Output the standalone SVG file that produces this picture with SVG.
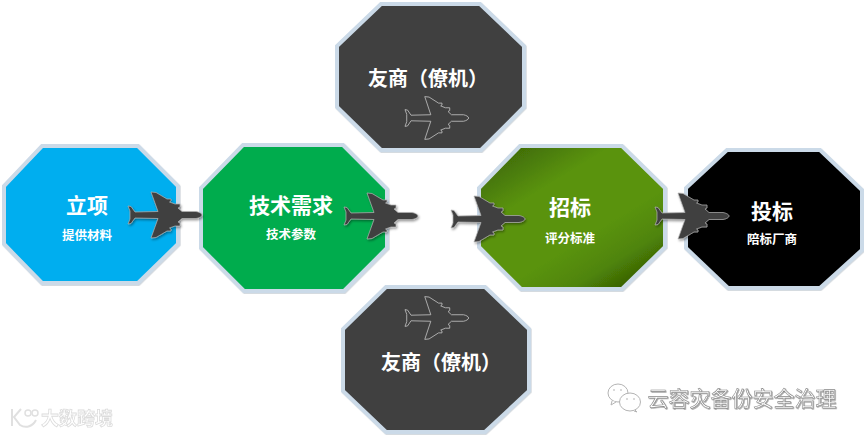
<svg xmlns="http://www.w3.org/2000/svg" width="864" height="435" viewBox="0 0 864 435">
<style>
.oct{stroke:#cbdae8;stroke-width:4;stroke-linejoin:miter;filter:url(#sh)}
text{font-family:"Noto Sans CJK SC","Liberation Sans",sans-serif;text-anchor:middle;dominant-baseline:central}
.t{fill:#fff;font-weight:700;font-size:21px}
.s{fill:#fff;font-weight:700;font-size:12.500px}
.pl{fill:#404040;stroke:#b5b5b5;stroke-width:.7;filter:url(#ps)}
.po{fill:none;stroke:#c4c4c4;stroke-width:.9}
.wm{fill:#fff;stroke:#8a8a8a;stroke-width:.6;font-size:21px;filter:url(#ws)}
.wb{fill:#fff;stroke:#dcdcdc;stroke-width:.8;font-size:18px;font-weight:700}
.ic{fill:#fff;stroke:#b4b4b4;stroke-width:1}
.lg{fill:none;stroke:#e0e0e0;stroke-width:2}
</style>
<defs>
<filter id="sh" x="-5%" y="-5%" width="110%" height="110%"><feDropShadow dx="0.6" dy="0.8" stdDeviation="0.6" flood-color="#8b99a8" flood-opacity=".45"/></filter>
<filter id="ps" x="-10%" y="-10%" width="125%" height="125%"><feDropShadow dx="1" dy="1.500" stdDeviation="0.8" flood-color="#000" flood-opacity=".4"/></filter>
<filter id="ws" x="-5%" y="-10%" width="110%" height="125%"><feDropShadow dx="0.8" dy="0.8" stdDeviation="0.4" flood-color="#777" flood-opacity=".7"/></filter>
<filter id="bl" x="-5%" y="-10%" width="110%" height="120%"><feGaussianBlur stdDeviation=".5"/></filter>
<linearGradient id="g" x1="0.1" y1="0" x2="0.9" y2="1">
<stop offset="0" stop-color="#3a6405"/><stop offset=".3" stop-color="#5a930a"/><stop offset=".62" stop-color="#5a930a"/><stop offset=".8" stop-color="#4f8408"/><stop offset="1" stop-color="#2c4f02"/>
</linearGradient>
<path id="plane" d="M0-9 3-8.500 7-3 30-3.500 23-23 28-22.500 39-16 43-16 43-14 41.500-13 47-11 52-11 52-8 50-7 54-3.500 68-3.500C71-3 74-1.500 74 0C74 1.500 71 3 68 3.500L54 3.500 50 7 52 8 52 11 47 11 41.500 13 43 14 43 16 39 16 28 22.500 23 23 30 3.500 7 3 3 8.500 0 9 2 4 2-4Z"/>
</defs>
<rect width="864" height="435" fill="#fff"/>
<g id="node-lixiang">
<polygon class="oct" fill="#00aeef" points="42,146 138,146 178,186 178,244 138,283 42,283 4,244 4,186"/>
<text class="t" x="87" y="204">立项</text><text class="s" x="87" y="234">提供材料</text>
</g>
<g id="node-jishu">
<polygon class="oct" fill="#00ac4e" points="243,145 343,145 387,189 387,248 344,291 244,291 201,248 201,188"/>
<text class="t" x="291" y="204">技术需求</text><text class="s" x="291" y="233">技术参数</text>
</g>
<g id="node-zhaobiao">
<polygon class="oct" fill="url(#g)" points="520,146 622,146 665,188 665,247 622,289 521,289 479,247 479,188"/>
<text class="t" x="570" y="206">招标</text><text class="s" x="570" y="237">评分标准</text>
</g>
<g id="node-toubiao">
<polygon class="oct" fill="#000" points="727,150 820,150 862,190 862,250 820,288 728,288 686,248 686,188"/>
<text class="t" x="772" y="210">投标</text><text class="s" x="772" y="238">陪标厂商</text>
</g>
<g id="node-youshang-top">
<polygon class="oct" fill="#404040" points="381,4 480,4 524,46 524,107 481,150 381,150 337,107 337,46"/>
<text class="t" x="428" y="77" style="font-size:20px">友商（僚机）</text>
<use href="#plane" class="po" transform="translate(405 118) scale(.86 .93)"/>
</g>
<g id="node-youshang-bottom">
<polygon class="oct" fill="#404040" points="386,287 485,287 529,329 529,391 485,432 386,432 343,391 343,329"/>
<text class="t" x="441" y="361" style="font-size:20px">友商（僚机）</text>
<use href="#plane" class="po" transform="translate(405 318) scale(.86 .93)"/>
</g>
<g id="connectors">
<use href="#plane" class="pl" transform="translate(128 215)"/>
<use href="#plane" class="pl" transform="translate(344 216)"/>
<use href="#plane" class="pl" transform="translate(451 219)"/>
<use href="#plane" class="pl" transform="translate(655 216)"/>
</g>
<g id="watermark-wechat">
<ellipse class="ic" cx="618" cy="393" rx="10" ry="9"/>
<path class="ic" d="M612 401 611 405 616 402"/>
<ellipse class="ic" cx="630" cy="402" rx="10.500" ry="9"/>
<path class="ic" d="M635 410 637 412 634 411"/>
<circle cx="614" cy="390" r=".8" fill="#aaa"/><circle cx="621" cy="390" r=".8" fill="#aaa"/>
<circle cx="627" cy="399" r=".8" fill="#aaa"/><circle cx="634" cy="399" r=".8" fill="#aaa"/>
<text class="wm" x="742" y="397">云容灾备份安全治理</text>
</g>
<g id="watermark-logo" filter="url(#bl)">
<path class="lg" d="M12 409V426M21 409 14 417 20 425C26 429 33 426 36 420"/>
<circle class="lg" cx="28" cy="413" r="3" style="stroke-width:1.500"/>
<circle class="lg" cx="35" cy="413" r="3" style="stroke-width:1.500"/>
<text class="wb" x="77" y="417">大数跨境</text>
</g>
</svg>
